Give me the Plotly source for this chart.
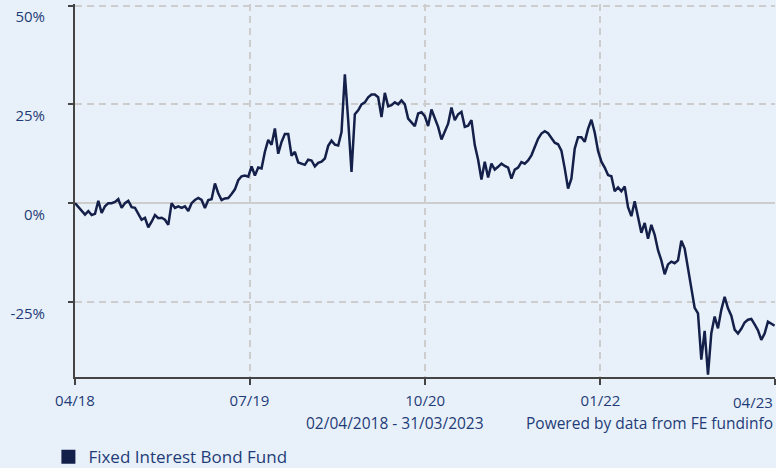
import pandas as pd
import plotly.graph_objects as go

# Cumulative performance (%) of the fund, evenly spaced in time
series_name = "Fixed Interest Bond Fund"
start_date = "2018-04-02"
end_date = "2023-03-31"
values = [
    0, -1, -1.8, -2.9, -2, -3, -2.7, 0.6, -2.5, -0.8,
    0, 0, 0.3, 1, -1.2, 0, 0.6, -1, -1.2, -2.7,
    -4.2, -3.7, -6.1, -4.7, -3, -3.8, -3.7, -4.2, -5.5, 0,
    -1.2, -0.8, -1.2, -0.8, -2, 0, 0.8, 1.3, 0.8, -1.2,
    0.8, 1, 5, 2.5, 0.8, 1.2, 1.3, 2.3, 3.5, 5.8,
    6.8, 7, 6.7,
    9.3, 7, 9, 8.8, 13, 16, 14.8, 18.9, 12.5, 15.5,
    17.5, 17.5, 12, 13, 10.3, 10, 9.7, 11, 10.8, 9.3,
    10.2, 10.5, 11.3, 14.5, 15.8, 14.8, 14.6, 18, 32.6, 21,
    7.9, 22.5, 23.5, 25, 25.5, 26.8, 27.5, 27.5, 26.8, 21.8,
    27.9, 24.5, 24.8, 25.5, 25, 26, 25, 21.4, 20.5, 19.5,
    22.7, 23, 22,
    19.5, 23.7, 21.5, 19.3, 16.1, 18.3, 20.1, 24.2, 21, 22.5,
    23.1, 19.3, 19.6, 21, 14.7, 11, 6, 10.5, 6.5, 10,
    8.5, 9.2, 10, 9.4, 9, 6.2, 8.5, 9, 10.4, 10,
    10.8, 12.1, 14, 16.3, 17.6, 18.2, 17.7, 16.4, 15.3, 14.9,
    13.3, 8.8, 3.7, 6.2, 13.8, 16.7, 16.7, 15.5, 18.8, 21.1,
    17.9, 13.2,
    10.5, 9, 7.1, 6.8, 3, 4, 3, 4.2, -1, -3.3,
    0.5, -3.5, -7.5, -5, -9, -5.5, -8, -11.9, -14.5, -18,
    -15.5, -14.8, -15.2, -14.5, -9.5, -11.5, -16, -21.5, -26.5, -27.9,
    -39.6, -32.3, -43.4, -32.9, -28.7, -31.7, -27, -23.7, -26.6, -28.5,
    -32, -33, -31.8, -30.2, -29.5, -29.3, -30.7, -32.2, -34.6, -33,
    -30, -30.5, -31,
]
dates = pd.date_range(start_date, end_date, periods=len(values))

x_tick_vals = ["2018-04-02", "2019-07-01", "2020-10-01", "2022-01-01", "2023-04-01"]
x_tick_text = ["04/18", "07/19", "10/20", "01/22", ""]
last_tick_label = "04/23"
y_tick_vals = [-25, 0, 25, 50]
y_tick_text = ["-25%", "0%", "25%", "50%"]
period_label = "02/04/2018 - 31/03/2023"
source_label = "Powered by data from FE fundinfo"

BG = "#e8f1f9"
TEXT = "#1f3c78"
LINE = "#14204a"
GRID = "#cdcdcd"
AXIS = "#444444"
FONT = "Open Sans"

fig = go.Figure()
fig.add_trace(go.Scatter(
    x=dates, y=values, mode="lines",
    line=dict(color=LINE, width=2.5),
    showlegend=False, name=series_name,
))
# legend-only entry with a square swatch
fig.add_trace(go.Scatter(
    x=[None], y=[None], mode="markers",
    marker=dict(symbol="square", color=LINE, size=14),
    name=series_name, showlegend=True,
))

fig.update_layout(
    template="none",
    width=776, height=468,
    margin=dict(l=75, r=1, t=4, b=91, autoexpand=False),
    paper_bgcolor=BG, plot_bgcolor=BG,
    font=dict(family=FONT, color=TEXT, size=15),
    legend=dict(
        x=-0.038, y=-0.215, xanchor="left", yanchor="middle",
        orientation="h", font=dict(size=17, color=TEXT),
        bgcolor="rgba(0,0,0,0)", itemwidth=30,
    ),
    xaxis=dict(
        type="date", automargin=False,
        range=["2018-04-02", "2023-04-01"],
        tickmode="array", tickvals=x_tick_vals, ticktext=x_tick_text,
        showgrid=True, gridcolor=GRID, gridwidth=2, griddash="7px,5px",
        showline=True, linecolor=AXIS, linewidth=2,
        ticks="outside", ticklen=6, tickwidth=2, tickcolor=AXIS,
        ticklabelstandoff=3,
        zeroline=False,
    ),
    yaxis=dict(
        automargin=False,
        range=[-44, 50.4],
        tickmode="array", tickvals=y_tick_vals, ticktext=y_tick_text,
        showgrid=True, gridcolor=GRID, gridwidth=2, griddash="7px,5px",
        zeroline=True, zerolinecolor=GRID, zerolinewidth=2,
        showline=True, linecolor=AXIS, linewidth=2,
        ticks="outside", ticklen=5, tickwidth=2, tickcolor=AXIS,
        ticklabelposition="outside bottom",
        ticklabelstandoff=25,
    ),
)

fig.add_annotation(
    x="2023-04-01", xref="x", y=-0.067, yref="paper",
    text=last_tick_label, showarrow=False, xanchor="right", yanchor="middle",
    font=dict(size=15, color=TEXT),
)
fig.add_annotation(
    x=0.457, xref="paper", y=-0.1237, yref="paper",
    text=period_label, showarrow=False, xanchor="center", yanchor="middle",
    font=dict(size=15.5, color=TEXT),
)
fig.add_annotation(
    x=1.0, xref="paper", y=-0.1237, yref="paper",
    text=source_label, showarrow=False, xanchor="right", yanchor="middle",
    font=dict(size=15.5, color=TEXT),
)

fig.write_html(
    "out.html",
    config={"displayModeBar": False},
    post_script="document.body.style.margin='0';document.body.style.overflow='hidden';",
)
